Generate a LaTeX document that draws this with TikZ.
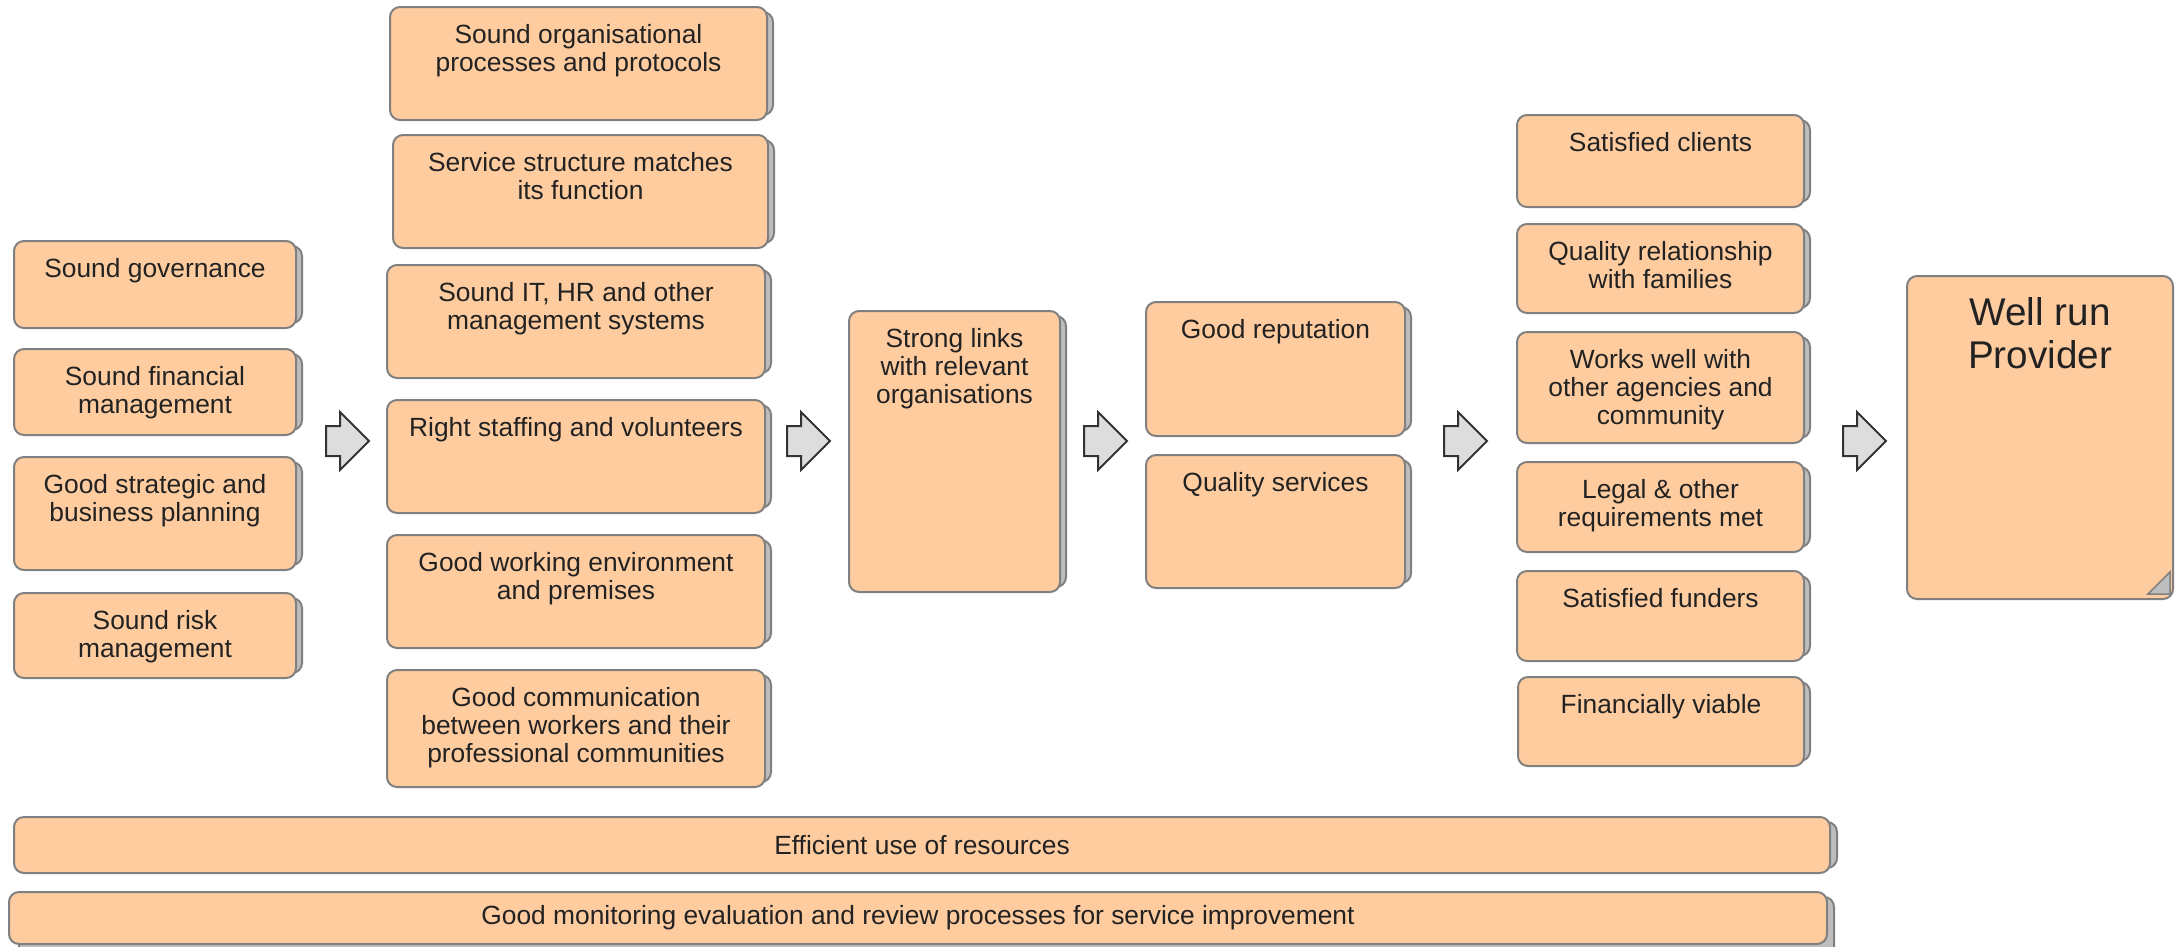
\documentclass[tikz,border=0pt]{standalone}
\usepackage{fontspec}
\setmainfont{Liberation Sans}
\usetikzlibrary{calc,fit,shapes.arrows}
\definecolor{cardfill}{RGB}{255,204,160}
\definecolor{cardline}{RGB}{128,128,128}
\definecolor{shadefill}{RGB}{190,190,190}
\definecolor{arrowfill}{RGB}{221,221,221}
\definecolor{arrowline}{RGB}{51,51,51}
\definecolor{inktext}{RGB}{34,34,34}
\tikzset{
	cardbox/.style={draw=cardline, fill=cardfill, line width=0.4mm, rounded corners=2mm, inner sep=0pt, outer sep=0pt},
	cardshade/.style={draw=cardline, fill=shadefill, line width=0.4mm, rounded corners=2mm},
	cardtext/.style={text=inktext, font=\fontsize{15}{16}\selectfont, align=center, inner sep=0pt, anchor=north, yshift=-3.4mm},
	bartext/.style={text=inktext, font=\fontsize{15}{16}\selectfont, inner sep=0pt, anchor=center},
	bigtext/.style={text=inktext, font=\fontsize{22}{24.5}\selectfont, align=center, inner sep=0pt, anchor=north, yshift=-4.2mm},
	steparrow/.style={single arrow, draw=arrowline, fill=arrowfill, line width=0.4mm, inner xsep=0pt, inner ysep=2.8mm, minimum height=8.6mm, single arrow head extend=2.8mm, anchor=tail},
	earfold/.style={draw=cardline, fill=shadefill, line width=0.3mm}
}
\def\card(#1)(#2,#3)(#4,#5)#6{%
	\draw[cardshade] ({#2+10},{#3+5}) rectangle ({#4+6},{#5-5});
	\node[cardbox, fit={(#2,#3) (#4,#5)}, label={[cardtext]north:{#6}}] (#1) {};
}

\begin{document}
\begin{tikzpicture}[x=0.2mm, y=-0.2mm]
			%%%%% START %%%%%
			\useasboundingbox (0, 0) rectangle (2175, 946);
			\clip (0, 0) rectangle (2175, 946);
			
			\card(gov)(14, 241)(296, 328){Sound governance}
			\card(fin)(14, 349)(296, 435){Sound financial\\management}
			\card(plan)(14, 457)(296, 570){Good strategic and\\business planning}
			\card(risk)(14, 593)(296, 678){Sound risk\\management}
			
			\card(proc)(390, 7)(767, 120){Sound organisational\\processes and protocols}
			\card(struct)(393, 135)(768, 248){Service structure matches\\its function}
			\card(sys)(387, 265)(765, 378){Sound IT, HR and other\\management systems}
			\card(staff)(387, 400)(765, 513){Right staffing and volunteers}
			\card(env)(387, 535)(765, 648){Good working environment\\and premises}
			\card(comm)(387, 670)(765, 787){Good communication\\between workers and their\\professional communities}
			
			\card(links)(849, 311)(1060, 592){Strong links\\with relevant\\organisations}
			
			\card(rep)(1146, 302)(1405, 436){Good reputation}
			\card(qual)(1146, 455)(1405, 588){Quality services}
			
			\card(clients)(1517, 115)(1804, 207){Satisfied clients}
			\card(fam)(1517, 224)(1804, 313){Quality relationship\\with families}
			\card(agen)(1517, 332)(1804, 443){Works well with\\other agencies and\\community}
			\card(legal)(1517, 462)(1804, 552){Legal \& other\\requirements met}
			\card(fund)(1517, 571)(1804, 661){Satisfied funders}
			\card(viable)(1518, 677)(1804, 766){Financially viable}
			
			\node[cardbox, fit={(1907, 276) (2173, 599)}, label={[bigtext]north:{Well run\\Provider}}] (wrp) {};
			\draw[earfold] ($(wrp.south east)+(-25, -5)$) -- ($(wrp.south east)+(-3, -27)$) -- ($(wrp.south east)+(-3, -5)$) -- cycle;
			
			\node[steparrow] (a1) at (325, 441) {};
			\node[steparrow] (a2) at (786, 441) {};
			\node[steparrow] (a3) at (1083, 441) {};
			\node[steparrow] (a4) at (1443, 441) {};
			\node[steparrow] (a5) at (1842, 441) {};
			
			\draw[cardshade] (24, 822) rectangle (1837, 868);
			\node[cardbox, fit={(14, 817) (1830, 873)}, label={[bartext]center:{Efficient use of resources}}] (eff) {};
			\draw[cardshade] (19, 897) rectangle (1834, 960);
			\node[cardbox, fit={(9, 892) (1827, 944)}, label={[bartext]center:{Good monitoring evaluation and review processes for service improvement}}] (mon) {};
			
			%%%%% END %%%%%
\end{tikzpicture}
\end{document}
